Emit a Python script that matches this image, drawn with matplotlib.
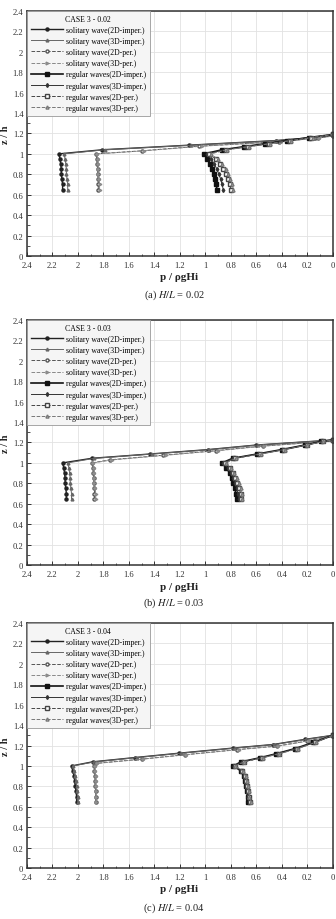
import matplotlib
matplotlib.use('Agg')
import matplotlib.pyplot as plt
from matplotlib.ticker import MultipleLocator
import numpy as np

plt.rcParams['font.family'] = ['Liberation Serif', 'DejaVu Serif']
plt.rcParams['mathtext.fontset'] = 'stix'

labels = ['solitary wave(2D-imper.)', 'solitary wave(3D-imper.)',
          'solitary wave(2D-per.)', 'solitary wave(3D-per.)',
          'regular waves(2D-imper.)', 'regular waves(3D-imper.)',
          'regular waves(2D-per.)', 'regular waves(3D-per.)']
cases = ['CASE 3 - 0.02', 'CASE 3 - 0.03', 'CASE 3 - 0.04']
captions = ['(a)', '(b)', '(c)']
ratios = ['0.02', '0.03', '0.04']
tick_labels = ['0', '0.2', '0.4', '0.6', '0.8', '1', '1.2', '1.4', '1.6',
               '1.8', '2', '2.2', '2.4']

# depth positions of the lower (below-still-water) gauges
z_low = [0.65, 0.70, 0.75, 0.80, 0.85, 0.90, 0.95, 1.00]

# ---- H/L = 0.02
a_sol_low = [[2.12, 2.12, 2.125, 2.13, 2.13, 2.135, 2.14, 2.15],
             [2.08, 2.08, 2.085, 2.09, 2.09, 2.095, 2.10, 2.11],
             [1.84, 1.84, 1.84, 1.845, 1.845, 1.85, 1.85, 1.86],
             [1.83, 1.83, 1.835, 1.84, 1.84, 1.84, 1.845, 1.85]]
a_sol_zup = [1.04, 1.085, 1.13, 1.16, 1.18]
a_sol_zup_per = [1.03, 1.075, 1.12, 1.155, 1.175]
a_sol_up = [[1.81, 1.13, 0.45, 0.15, 0.0],
            [1.79, 1.11, 0.44, 0.14, 0.0],
            [1.50, 1.05, 0.42, 0.12, 0.0],
            [1.48, 1.03, 0.41, 0.11, 0.0]]
a_reg_low = [[0.91, 0.915, 0.925, 0.935, 0.95, 0.965, 0.985, 1.01],
             [0.86, 0.87, 0.88, 0.895, 0.91, 0.93, 0.955, 0.99],
             [0.80, 0.81, 0.825, 0.84, 0.86, 0.885, 0.92, 0.97],
             [0.78, 0.79, 0.805, 0.82, 0.84, 0.87, 0.905, 0.96]]
a_reg_zup = [1.04, 1.07, 1.10, 1.13, 1.16, 1.19]
a_reg_up = [[0.87, 0.70, 0.53, 0.36, 0.19, 0.0],
            [0.85, 0.69, 0.52, 0.35, 0.18, 0.0],
            [0.84, 0.67, 0.50, 0.34, 0.17, 0.0],
            [0.83, 0.66, 0.49, 0.33, 0.16, 0.0]]

# ---- H/L = 0.03
b_sol_low = [[2.09, 2.09, 2.095, 2.10, 2.10, 2.105, 2.11, 2.12],
             [2.05, 2.05, 2.055, 2.06, 2.06, 2.065, 2.07, 2.08],
             [1.87, 1.87, 1.87, 1.875, 1.875, 1.88, 1.88, 1.89],
             [1.86, 1.86, 1.865, 1.87, 1.87, 1.87, 1.875, 1.88]]
b_sol_zup = [1.045, 1.087, 1.13, 1.175, 1.224]
b_sol_zup_per = [1.03, 1.075, 1.12, 1.165, 1.215]
b_sol_up = [[1.89, 1.435, 0.98, 0.60, 0.0],
            [1.87, 1.42, 0.97, 0.59, 0.0],
            [1.75, 1.33, 0.92, 0.55, 0.0],
            [1.73, 1.31, 0.90, 0.54, 0.0]]
b_reg_low = [[0.755, 0.76, 0.77, 0.78, 0.795, 0.81, 0.835, 0.87],
             [0.74, 0.745, 0.755, 0.77, 0.785, 0.80, 0.825, 0.86],
             [0.72, 0.725, 0.735, 0.75, 0.765, 0.785, 0.81, 0.85],
             [0.71, 0.715, 0.725, 0.74, 0.755, 0.775, 0.80, 0.84]]
b_reg_zup = [1.045, 1.087, 1.13, 1.175, 1.21, 1.225]
b_reg_up = [[0.787, 0.594, 0.403, 0.22, 0.09, 0.0],
            [0.78, 0.585, 0.395, 0.215, 0.085, 0.0],
            [0.77, 0.575, 0.385, 0.205, 0.08, 0.0],
            [0.76, 0.565, 0.375, 0.20, 0.075, 0.0]]

# ---- H/L = 0.04
c_sol_low = [[2.01, 2.01, 2.015, 2.02, 2.025, 2.03, 2.04, 2.05],
             [2.00, 2.00, 2.005, 2.01, 2.015, 2.02, 2.03, 2.04],
             [1.86, 1.86, 1.86, 1.865, 1.865, 1.865, 1.87, 1.87],
             [1.855, 1.855, 1.855, 1.86, 1.86, 1.86, 1.865, 1.865]]
c_sol_zup = [1.04, 1.082, 1.125, 1.175, 1.21, 1.26, 1.30]
c_sol_zup_per = [1.025, 1.067, 1.11, 1.16, 1.195, 1.245, 1.29]
c_sol_up = [[1.885, 1.553, 1.205, 0.782, 0.468, 0.22, 0.0],
            [1.87, 1.54, 1.19, 0.77, 0.46, 0.21, 0.0],
            [1.86, 1.50, 1.16, 0.75, 0.44, 0.20, 0.0],
            [1.85, 1.49, 1.15, 0.74, 0.43, 0.19, 0.0]]
c_reg_low = [[0.665, 0.67, 0.675, 0.685, 0.69, 0.70, 0.72, 0.78],
             [0.66, 0.665, 0.67, 0.68, 0.685, 0.695, 0.715, 0.775],
             [0.65, 0.66, 0.665, 0.675, 0.68, 0.69, 0.71, 0.77],
             [0.645, 0.655, 0.66, 0.67, 0.675, 0.685, 0.705, 0.765]]
c_reg_zup = [1.04, 1.08, 1.12, 1.17, 1.23, 1.30]
c_reg_up = [[0.722, 0.573, 0.443, 0.298, 0.155, 0.0],
            [0.715, 0.565, 0.435, 0.29, 0.15, 0.0],
            [0.70, 0.555, 0.425, 0.28, 0.14, 0.0],
            [0.695, 0.55, 0.42, 0.275, 0.135, 0.0]]

panels = [
    (a_sol_low, a_sol_zup, a_sol_zup_per, a_sol_up, a_reg_low, a_reg_zup, a_reg_up),
    (b_sol_low, b_sol_zup, b_sol_zup_per, b_sol_up, b_reg_low, b_reg_zup, b_reg_up),
    (c_sol_low, c_sol_zup, c_sol_zup_per, c_sol_up, c_reg_low, c_reg_zup, c_reg_up),
]

styles = [
    dict(color='#222222', ls='-', lw=1.0, marker='o', ms=2.2, mfc='#222222', mec='#222222'),
    dict(color='#666666', ls='-', lw=0.7, marker='^', ms=2.0, mfc='#666666', mec='#666666'),
    dict(color='#555555', ls='--', lw=0.7, marker='o', ms=2.2, mfc='white', mec='#555555'),
    dict(color='#888888', ls='--', lw=0.7, marker='>', ms=2.0, mfc='white', mec='#888888'),
    dict(color='#111111', ls='-', lw=1.2, marker='s', ms=2.6, mfc='#111111', mec='#111111'),
    dict(color='#333333', ls='-', lw=0.7, marker='d', ms=2.0, mfc='#333333', mec='#333333'),
    dict(color='#444444', ls='--', lw=0.7, marker='s', ms=2.4, mfc='white', mec='#444444'),
    dict(color='#777777', ls='--', lw=0.7, marker='^', ms=2.2, mfc='white', mec='#777777'),
]

fig = plt.figure(figsize=(3.36, 9.2), dpi=100)
bottoms = [0.7207, 0.3848, 0.0554]
label_y = [277, 587, 890]
cap_y = [295, 603, 908]

for k, (sol_low, sol_zup, sol_zup_per, sol_up, reg_low, reg_zup, reg_up) in enumerate(panels):
    ax = fig.add_axes([0.080, bottoms[k], 0.911, 0.2663])
    handles = []
    for i in range(4):
        zu = sol_zup if i < 2 else sol_zup_per
        h, = ax.plot(sol_low[i] + sol_up[i], z_low + zu, label=labels[i], **styles[i])
        handles.append(h)
    for i in range(4):
        h, = ax.plot(reg_low[i] + reg_up[i], z_low + reg_zup, label=labels[4 + i],
                     **styles[4 + i])
        handles.append(h)

    ax.set_xlim(2.4, 0)
    ax.set_ylim(0, 2.4)
    ax.set_xticks(np.arange(0, 2.41, 0.2))
    ax.set_xticklabels(tick_labels)
    ax.set_yticks(np.arange(0, 2.41, 0.2))
    ax.set_yticklabels(tick_labels)
    ax.xaxis.set_minor_locator(MultipleLocator(0.1))
    ax.yaxis.set_minor_locator(MultipleLocator(0.1))
    ax.grid(True, which='major', color='#e2e2e2', lw=0.6)
    ax.set_axisbelow(True)
    ax.tick_params(which='both', direction='in', top=False, right=False,
                   labelsize=6.2, colors='#333333')
    ax.tick_params(axis='x', pad=3.5)
    ax.tick_params(axis='y', pad=2.5)
    ax.tick_params(which='major', length=3, width=0.7)
    ax.tick_params(which='minor', length=1.8, width=0.6)
    for s in ax.spines.values():
        s.set_color('#333333')
        s.set_linewidth(1.1)

    leg = ax.legend(handles=handles, loc='upper left', title=cases[k],
                    fontsize=5.6, title_fontsize=5.6, handlelength=4.2,
                    borderaxespad=0, fancybox=False, framealpha=1,
                    facecolor='#f5f5f5', edgecolor='#999999',
                    labelspacing=0.4, handletextpad=0.3, borderpad=0.5)
    leg.get_frame().set_linewidth(0.6)

    fig.text(6 / 336, bottoms[k] + 0.2663 / 2, 'z / h', rotation=90,
             ha='center', va='center', fontsize=7.5, fontweight='bold',
             color='#222222')
    fig.text(179 / 336, 1 - label_y[k] / 920, 'p / \u03c1gHi', ha='center',
             va='center', fontsize=8, fontweight='bold', color='#222222')
    fig.text(174 / 336, 1 - cap_y[k] / 920,
             captions[k] + ' $\\it{H/L}$ = ' + ratios[k], ha='center',
             va='center', fontsize=7.5, color='#222222')

fig.savefig('out.png', dpi=100)
